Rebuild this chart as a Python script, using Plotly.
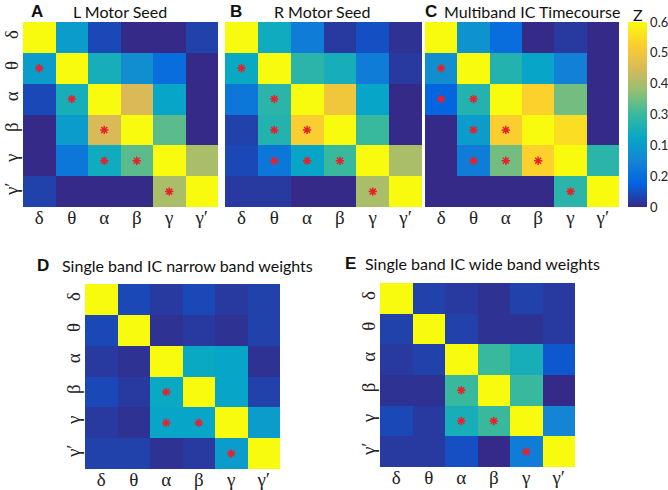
import plotly.graph_objects as go

bands = ["δ", "θ", "α", "β", "γ", "γ′"]

z_A = [
    [0.60, 0.20, 0.04, 0.00, 0.00, 0.03],
    [0.20, 0.60, 0.25, 0.17, 0.10, 0.00],
    [0.04, 0.25, 0.60, 0.45, 0.22, 0.00],
    [0.00, 0.20, 0.45, 0.60, 0.33, 0.00],
    [0.00, 0.12, 0.24, 0.33, 0.60, 0.40],
    [0.03, 0.00, 0.00, 0.00, 0.40, 0.60],
]
z_B = [
    [0.60, 0.24, 0.13, 0.02, 0.05, 0.01],
    [0.23, 0.60, 0.28, 0.25, 0.13, 0.02],
    [0.12, 0.28, 0.60, 0.50, 0.22, 0.00],
    [0.03, 0.27, 0.52, 0.60, 0.30, 0.00],
    [0.04, 0.12, 0.22, 0.30, 0.60, 0.40],
    [0.02, 0.02, 0.00, 0.00, 0.40, 0.60],
]
z_C = [
    [0.60, 0.18, 0.10, 0.00, 0.02, 0.00],
    [0.17, 0.60, 0.27, 0.22, 0.14, 0.00],
    [0.08, 0.27, 0.60, 0.53, 0.35, 0.00],
    [0.00, 0.20, 0.52, 0.60, 0.55, 0.00],
    [0.00, 0.13, 0.35, 0.53, 0.60, 0.28],
    [0.00, 0.00, 0.00, 0.00, 0.28, 0.60],
]
z_D = [
    [0.60, 0.04, 0.02, 0.04, 0.02, 0.03],
    [0.04, 0.60, 0.01, 0.02, 0.01, 0.03],
    [0.02, 0.01, 0.60, 0.23, 0.22, 0.01],
    [0.04, 0.02, 0.23, 0.60, 0.22, 0.03],
    [0.02, 0.01, 0.22, 0.22, 0.60, 0.20],
    [0.03, 0.03, 0.01, 0.02, 0.20, 0.60],
]
z_E = [
    [0.60, 0.03, 0.02, 0.01, 0.03, 0.02],
    [0.03, 0.60, 0.03, 0.01, 0.01, 0.02],
    [0.02, 0.03, 0.60, 0.30, 0.25, 0.06],
    [0.01, 0.01, 0.30, 0.60, 0.30, 0.00],
    [0.04, 0.02, 0.25, 0.30, 0.60, 0.15],
    [0.02, 0.02, 0.05, 0.00, 0.13, 0.60],
]

# significant cells: (row, col)
stars_A = [(1, 0), (2, 1), (3, 2), (4, 2), (4, 3), (5, 4)]
stars_B = [(1, 0), (2, 1), (3, 1), (3, 2), (4, 1), (4, 2), (4, 3), (5, 4)]
stars_C = [(1, 0), (2, 0), (2, 1), (3, 1), (3, 2), (4, 1), (4, 2), (4, 3), (5, 4)]
stars_D = [(3, 2), (4, 2), (4, 3), (5, 4)]
stars_E = [(3, 2), (4, 2), (4, 3), (5, 4)]

cbar_tickvals = [0, 0.1, 0.2, 0.3, 0.4, 0.5, 0.6]
cbar_ticktext = ["0", "0.2", "0.1", "0.3", "0.4", "0.5", "0.6"]

parula = [
    [0.0, "#352a87"], [0.125, "#0363e1"], [0.25, "#1485d4"], [0.375, "#06a7c6"],
    [0.5, "#38b99e"], [0.625, "#92bf73"], [0.75, "#d9ba56"], [0.875, "#fcce2e"],
    [1.0, "#f9fb0e"],
]

W, H = 668, 490
panels = [
    ("A", "L Motor Seed", z_A, stars_A, (23, 218, 22, 207), (37, 120, 12), True),
    ("B", "R Motor Seed", z_B, stars_B, (225, 422, 22, 207), (236, 322, 12), False),
    ("C", "Multiband IC Timecourse", z_C, stars_C, (425, 619, 22, 207), (431, 532, 12), False),
    ("D", "Single band IC narrow band weights", z_D, stars_D, (85, 280, 284, 469), (43, 187, 265), True),
    ("E", "Single band IC wide band weights", z_E, stars_E, (380, 575, 283, 467), (351, 482, 263), True),
]

fig = go.Figure()
annotations = []
idx = list(range(6))
for i, (lab, title, z, stars, box, tpos, ylab) in enumerate(panels):
    n = "" if i == 0 else str(i + 1)
    x0, x1, y0, y1 = box
    fig.add_trace(go.Heatmap(
        z=z, x=idx, y=idx, colorscale=parula, zmin=0, zmax=0.6,
        showscale=(i == 2), xaxis="x" + n, yaxis="y" + n,
        colorbar=dict(
            x=628 / W, xanchor="left", xpad=0, ypad=0, thickness=19, thicknessmode="pixels",
            len=185, lenmode="pixels", y=1 - 114.5 / H, yanchor="middle",
            outlinewidth=0, tickvals=cbar_tickvals, ticktext=cbar_ticktext,
            ticks="", ticklen=0, tickfont=dict(family="Lato", size=13, color="#222"),
        ),
    ))
    fig.add_trace(go.Scatter(
        x=[c for r, c in stars], y=[r for r, c in stars], mode="markers",
        marker=dict(symbol="asterisk-open", size=7, color="#e8202a",
                    line=dict(color="#e8202a", width=1.5)),
        xaxis="x" + n, yaxis="y" + n, showlegend=False, hoverinfo="skip",
    ))
    fig.update_layout(**{
        "xaxis" + n: dict(domain=[x0 / W, x1 / W], range=[-0.5, 5.5], tickvals=idx,
                          ticktext=bands, showgrid=False, zeroline=False, ticks="",
                          anchor="y" + n, automargin=False, ticklabelstandoff=-3,
                          tickfont=dict(family="Liberation Serif", size=19, color="#222")),
        "yaxis" + n: dict(domain=[1 - y1 / H, 1 - y0 / H], range=[5.5, -0.5], tickvals=idx,
                          ticktext=bands, showgrid=False, zeroline=False, ticks="",
                          anchor="x" + n, tickangle=-90, automargin=False,
                          showticklabels=ylab,
                          tickfont=dict(family="Liberation Serif", size=19, color="#222")),
    })
    annotations.append(dict(x=tpos[0] / W, y=1 - tpos[2] / H, xref="paper", yref="paper",
                            xanchor="center", yanchor="middle",
                            text="<b>" + lab + "</b>", showarrow=False,
                            font=dict(family="Liberation Sans", size=17, color="#111")))
    annotations.append(dict(x=tpos[1] / W, y=1 - tpos[2] / H, xref="paper", yref="paper",
                            xanchor="center", yanchor="middle",
                            text=title, showarrow=False,
                            font=dict(family="Lato", size=16, color="#111")))

annotations.append(dict(x=638 / W, y=1 - 14 / H, xref="paper", yref="paper", text="Z",
                        xanchor="center", yanchor="middle",
                        showarrow=False, font=dict(family="Lato", size=16, color="#111")))

fig.update_layout(width=W, height=H, margin=dict(l=0, r=0, t=0, b=0),
                  paper_bgcolor="white", plot_bgcolor="white",
                  annotations=annotations, showlegend=False)
fig.write_html("out.html", config={"displayModeBar": False},
               post_script="document.body.style.margin='0px';")
